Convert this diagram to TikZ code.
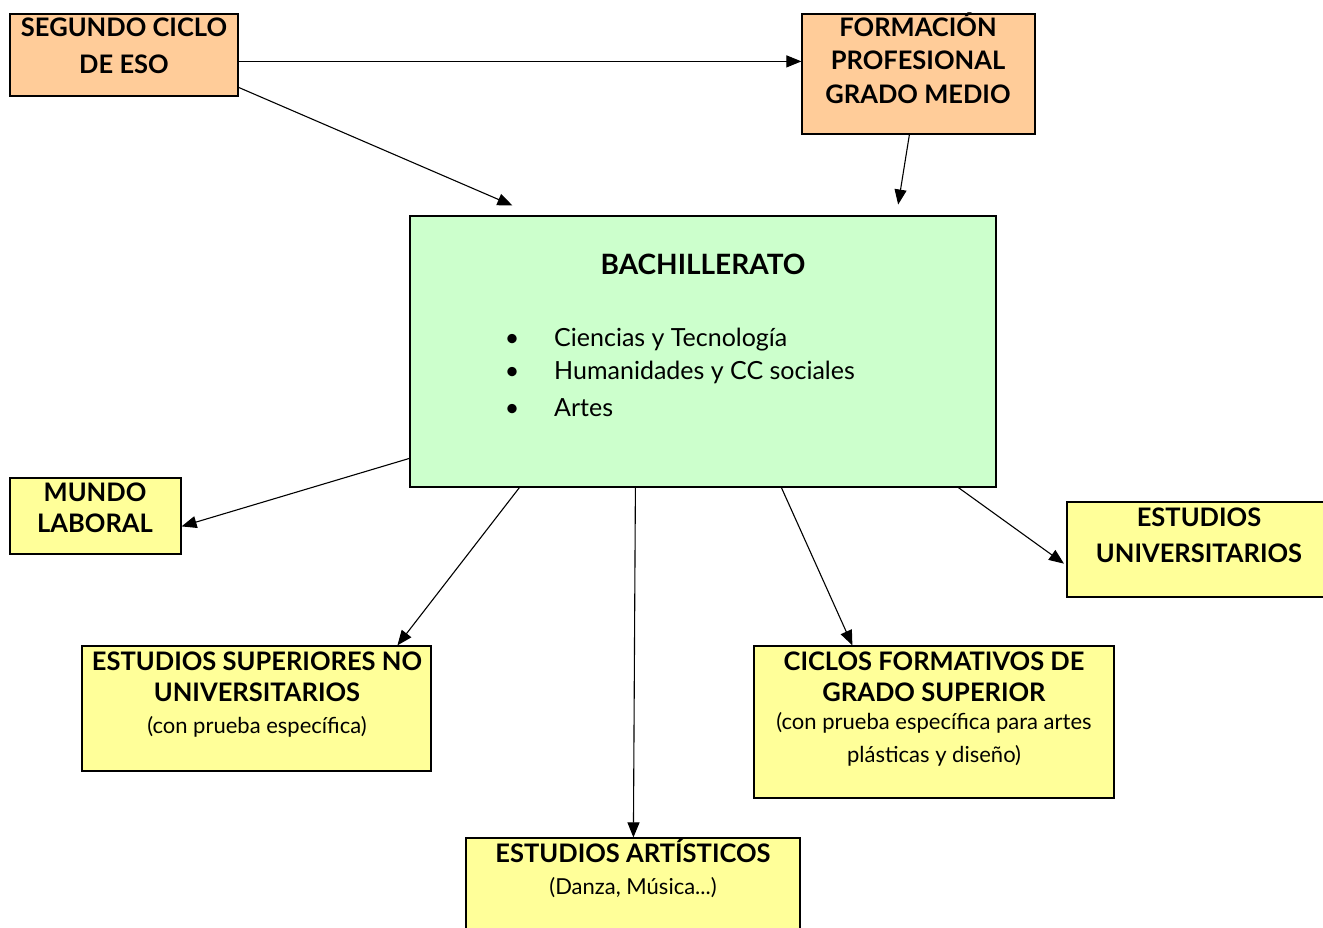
\documentclass[tikz,border=0pt]{standalone}
\usepackage{fontspec}
\setmainfont{Lato}
\usetikzlibrary{arrows.meta,calc}
\definecolor{peach}{HTML}{FFCC99}
\definecolor{mint}{HTML}{CCFFCC}
\definecolor{lemon}{HTML}{FFFF99}
\begin{document}
\begin{tikzpicture}[x=1pt,y=-1pt,
  box/.style={draw=black,line width=1.2pt,inner sep=0pt},
  tb/.style={font=\fontsize{25.5}{30}\selectfont\bfseries,anchor=base,inner sep=0pt},
  tr/.style={font=\fontsize{25}{30}\selectfont,anchor=base,inner sep=0pt},
  ts/.style={font=\fontsize{22}{26}\selectfont,anchor=base,inner sep=0pt},
  arr/.style={-{Triangle[length=15pt,width=12pt]},line width=1.1pt}]
\fill[white] (0,0) rectangle (1323,928);
\useasboundingbox (0,0) rectangle (1323,928);
\clip (0,0) rectangle (1323,928);
% boxes
\node[box,fill=peach,minimum width=228,minimum height=82] (seg) at (124,55) {};
\node[box,fill=peach,minimum width=233,minimum height=120] (fp) at (918.5,74) {};
\node[box,fill=mint,minimum width=586,minimum height=271] (bach) at (703,351.5) {};
\node[box,fill=lemon,minimum width=171,minimum height=76] (mundo) at (95.5,516) {};
\node[box,fill=lemon,minimum width=349,minimum height=125] (esn) at (256.5,708.5) {};
\node[box,fill=lemon,minimum width=360,minimum height=152] (ciclos) at (934,722) {};
\node[box,fill=lemon,minimum width=265,minimum height=95] (eu) at (1199.5,549.5) {};
\node[box,fill=lemon,minimum width=334,minimum height=110] (art) at (633,893) {};
% connectors
\draw[arr] ($(seg.north east)+(0,48)$) -- ($(fp.north west)+(0,48)$);
\draw[arr,shorten >=25pt] ($(seg.north east)+(0,74)$) -- ($(bach.north west)+(126,0)$);
\draw[arr,shorten >=11pt] ($(fp.south west)+(108,0)$) -- ($(bach.north west)+(487,0)$);
\draw[arr] ($(bach.north west)+(0,243)$) -- ($(mundo.north east)+(0,49)$);
\draw[arr] ($(bach.south west)+(110,0)$) -- ($(esn.north west)+(316,0)$);
\draw[arr] ($(bach.south west)+(226,0)$) -- ($(art.north west)+(168,0)$);
\draw[arr] ($(bach.south west)+(372,0)$) -- ($(ciclos.north west)+(99,0)$);
\draw[arr,shorten >=3pt] ($(bach.south west)+(549,0)$) -- ($(eu.north west)+(0,64)$);
% texts
\node[tb] (seg1) at (124,37) {SEGUNDO CICLO};
\node[tb] (seg2) at (124,74) {DE ESO};
\node[tb] (fp1) at (918,37) {FORMACIÓN};
\node[tb] (fp2) at (918,70) {PROFESIONAL};
\node[tb] (fp3) at (918,104) {GRADO MEDIO};
\node[tb,font=\fontsize{28}{32}\selectfont\bfseries] (bt) at (703,274) {BACHILLERATO};
\node[tr] (d1) at (512,346) {•};
\node[tr] (d2) at (512,379) {•};
\node[tr] (d3) at (512,416) {•};
\node[tr,anchor=base west] (l1) at (554,346) {Ciencias y Tecnología};
\node[tr,anchor=base west] (l2) at (554,379) {Humanidades y CC sociales};
\node[tr,anchor=base west] (l3) at (554,416) {Artes};
\node[tb] (m1) at (95,501) {MUNDO};
\node[tb] (m2) at (95,532) {LABORAL};
\node[tb] (e1) at (257,670) {ESTUDIOS SUPERIORES NO};
\node[tb] (e2) at (257,701) {UNIVERSITARIOS};
\node[ts] (e3) at (257,733) {(con prueba específica)};
\node[tb] (c1) at (934,670) {CICLOS FORMATIVOS DE};
\node[tb] (c2) at (934,701) {GRADO SUPERIOR};
\node[ts] (c3) at (934,729) {(con prueba específica para artes};
\node[ts] (c4) at (934,762) {plásticas y diseño)};
\node[tb] (u1) at (1199,526) {ESTUDIOS};
\node[tb] (u2) at (1199,562) {UNIVERSITARIOS};
\node[tb] (a1) at (633,862) {ESTUDIOS ARTÍSTICOS};
\node[ts] (a2) at (633,894) {(Danza, Música...)};
\end{tikzpicture}
\end{document}
